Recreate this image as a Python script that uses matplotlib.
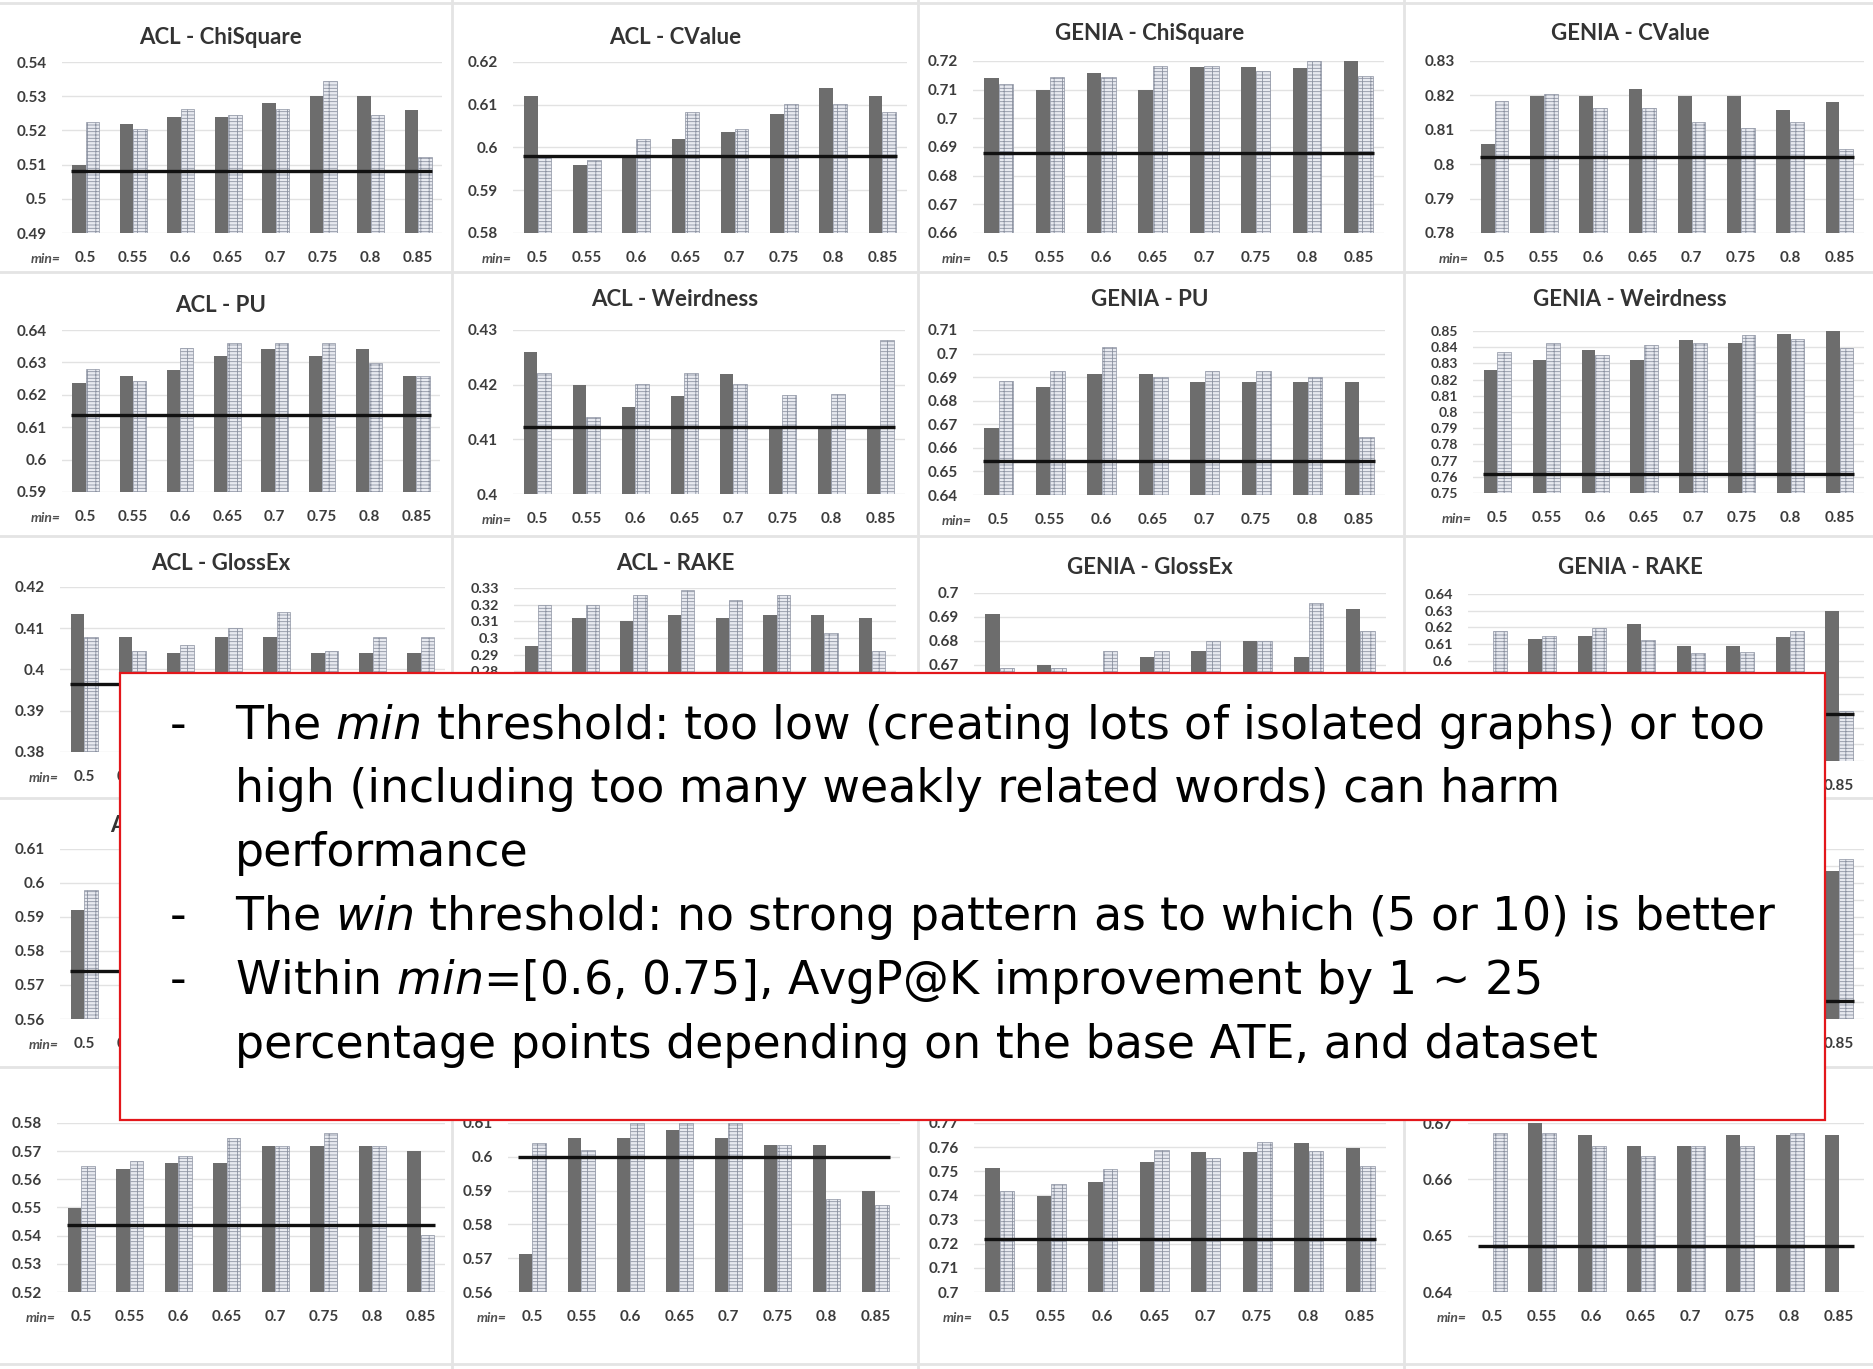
import numpy as np
import matplotlib
matplotlib.use('Agg')
import matplotlib.pyplot as plt
from matplotlib.patches import Rectangle
from matplotlib import transforms

plt.rcParams['font.family'] = ['Lato', 'DejaVu Sans']
plt.rcParams['hatch.linewidth'] = 0.6
plt.rcParams['mathtext.fontset'] = 'dejavusans'

nan = np.nan
mins = ['0.5', '0.55', '0.6', '0.65', '0.7', '0.75', '0.8', '0.85']

# fila 1
acl_chi_dark = [0.510, 0.522, 0.524, 0.524, 0.528, 0.530, 0.530, 0.526]
acl_chi_light = [0.5225, 0.5205, 0.5264, 0.5245, 0.5264, 0.5345, 0.5245, 0.5123]
acl_chi_base = 0.508

acl_cv_dark = [0.612, 0.596, 0.598, 0.602, 0.6037, 0.6078, 0.614, 0.612]
acl_cv_light = [0.598, 0.597, 0.602, 0.6084, 0.6043, 0.6102, 0.6102, 0.6084]
acl_cv_base = 0.598

genia_chi_dark = [0.7139, 0.710, 0.7158, 0.710, 0.7179, 0.7179, 0.7177, 0.720]
genia_chi_light = [0.7121, 0.7144, 0.7144, 0.7181, 0.7181, 0.7165, 0.720, 0.7147]
genia_chi_base = 0.688

genia_cv_dark = [0.8059, 0.8198, 0.8198, 0.822, 0.8198, 0.8198, 0.8159, 0.8181]
genia_cv_light = [0.8183, 0.8203, 0.8162, 0.8162, 0.8123, 0.8104, 0.8123, 0.8043]
genia_cv_base = 0.802

# fila 2
acl_pu_dark = [0.6236, 0.6257, 0.6278, 0.6319, 0.634, 0.6319, 0.634, 0.6257]
acl_pu_light = [0.6281, 0.6242, 0.6343, 0.6361, 0.6361, 0.6361, 0.6298, 0.6257]
acl_pu_base = 0.6139

acl_weird_dark = [0.426, 0.4199, 0.416, 0.4179, 0.422, 0.4122, 0.4122, 0.4122]
acl_weird_light = [0.4221, 0.4141, 0.4202, 0.4222, 0.4202, 0.4181, 0.4183, 0.4282]
acl_weird_base = 0.4122

genia_pu_dark = [0.6683, 0.686, 0.6913, 0.6913, 0.6878, 0.6878, 0.6878, 0.6878]
genia_pu_light = [0.6885, 0.6927, 0.7026, 0.6902, 0.6927, 0.6927, 0.6902, 0.6647]
genia_pu_base = 0.6545

genia_weird_dark = [0.8257, 0.8323, 0.8381, 0.8323, 0.8442, 0.8426, 0.8484, 0.8508]
genia_weird_light = [0.837, 0.8426, 0.835, 0.8412, 0.8426, 0.8473, 0.8453, 0.8397]
genia_weird_base = 0.7615

# fila 3 (parte de abajo tapada por el cuadro)
acl_gloss_dark = [0.4135, 0.408, 0.404, 0.408, 0.408, 0.404, 0.404, 0.404]
acl_gloss_light = [0.408, 0.4045, 0.406, 0.410, 0.414, 0.4045, 0.408, 0.408]
acl_gloss_base = 0.3965

acl_rake_dark = [0.295, 0.312, 0.310, 0.314, 0.312, 0.314, 0.314, 0.312]
acl_rake_light = [0.320, 0.320, 0.326, 0.329, 0.323, 0.326, 0.303, 0.292]
acl_rake_base = nan

genia_gloss_dark = [0.691, 0.670, nan, 0.673, 0.6755, 0.680, 0.673, 0.6935]
genia_gloss_light = [0.6685, 0.6685, 0.6755, 0.6755, 0.680, 0.680, 0.696, 0.684]
genia_gloss_base = nan

genia_rake_dark = [nan, 0.613, 0.615, 0.622, 0.609, 0.609, 0.6145, 0.630]
genia_rake_light = [0.618, 0.615, 0.6196, 0.6124, 0.6045, 0.605, 0.618, 0.570]
genia_rake_base = 0.568

# fila 4 (casi todo tapado)
acl_r4_dark = [0.592, 0.596, nan, nan, nan, nan, nan, nan]
acl_r4_light = [0.598, nan, nan, nan, nan, nan, nan, nan]
acl_r4_base = 0.574

genia_r4_dark = [nan, nan, nan, nan, nan, nan, nan, 0.787]
genia_r4_light = [nan, nan, nan, nan, nan, nan, nan, 0.794]
genia_r4_base = 0.7105

# fila 5
acl_r5a_dark = [0.5498, 0.5638, 0.5658, 0.5658, 0.5718, 0.5718, 0.5718, 0.5702]
acl_r5a_light = [0.5646, 0.5666, 0.5682, 0.5746, 0.5718, 0.5766, 0.5718, 0.5402]
acl_r5a_base = 0.5438

acl_r5b_dark = [0.5712, 0.6055, 0.6055, 0.6078, 0.6055, 0.6035, 0.6035, 0.590]
acl_r5b_light = [0.6042, 0.602, 0.61, 0.61, 0.61, 0.6035, 0.5875, 0.5858]
acl_r5b_base = 0.600

genia_r5a_dark = [0.7515, 0.7399, 0.7457, 0.7537, 0.7579, 0.7579, 0.7618, 0.7597]
genia_r5a_light = [0.7419, 0.7446, 0.7509, 0.7587, 0.7556, 0.762, 0.7584, 0.7521]
genia_r5a_base = 0.722

genia_r5b_dark = [nan, 0.67, 0.6679, 0.666, 0.666, 0.6679, 0.6679, 0.6679]
genia_r5b_light = [0.6683, 0.6683, 0.666, 0.6642, 0.666, 0.666, 0.6682, nan]
genia_r5b_base = 0.6481

W, H = 1874, 1369
fig = plt.figure(figsize=(W / 100, H / 100), dpi=100)

# separadores entre capturas
for xs in [452, 918, 1404]:
    fig.add_artist(plt.Line2D([xs / W, xs / W], [0, 1], color='#e4e4e4', lw=2))
for ys in [3, 272, 536, 798, 1067, 1364]:
    fig.add_artist(plt.Line2D([0, 1], [1 - ys / H, 1 - ys / H], color='#e4e4e4', lw=2))

textos = []


def grafico(pos, ylim, titulo, oscuro, claro, base, tx=None, ty=None, ha='center'):
    l, t, r, b = pos
    hpx = b - t
    ax = fig.add_axes([l / W, 1 - b / H, (r - l) / W, hpx / H])
    x = np.arange(len(mins))
    ax.bar(x - 0.14, oscuro, 0.28, color='#6d6d6d', zorder=2)
    ax.bar(x + 0.14, claro, 0.28, color='#e8eaf0', edgecolor='#8d93a2',
           hatch='-----||', lw=0.5, zorder=2)
    if not np.isnan(base):
        ax.hlines(base, -0.3, 7.3, color='#111111', lw=2.4, zorder=3)
    ticks = np.arange(ylim[0], ylim[1] + 0.005, 0.01)
    ax.set_yticks(ticks)
    ax.set_yticklabels([f'{round(v, 2):g}' for v in ticks])
    ax.set_ylim(ylim)
    ax.set_xticks(x)
    ax.set_xticklabels(mins)
    ax.set_xlim(-0.5, 7.5)
    paso = hpx / (len(ticks) - 1)
    fs = min(11, paso * 0.62)
    ax.tick_params(axis='y', length=0, labelsize=fs, labelcolor='#3c3c3c', pad=11)
    ax.tick_params(axis='x', length=0, labelsize=11, labelcolor='#3c3c3c', pad=13)
    for lab in ax.get_xticklabels() + ax.get_yticklabels():
        lab.set_fontweight('bold')
        textos.append(lab)
    ax.yaxis.grid(True, color='#e2e2e2', lw=1)
    ax.set_axisbelow(True)
    for s in ax.spines.values():
        s.set_visible(False)
    trans = transforms.blended_transform_factory(ax.transData, ax.transAxes)
    textos.append(ax.text(-0.52, -26 / hpx, 'min=', transform=trans, ha='right', va='center',
                          fontsize=10, style='italic', weight='bold', color='#505050'))
    if titulo:
        textos.append(fig.text(tx / W, 1 - ty / H, titulo, ha=ha, va='center',
                               fontsize=16, weight='bold', color='#333333'))
    return ax


cx = [221, 675, 1150, 1630]

grafico((62, 62, 442, 233), (0.49, 0.54), 'ACL - ChiSquare', acl_chi_dark, acl_chi_light, acl_chi_base, cx[0], 38)
grafico((513, 62, 907, 233), (0.58, 0.62), 'ACL - CValue', acl_cv_dark, acl_cv_light, acl_cv_base, cx[1], 38)
grafico((973, 61, 1384, 233), (0.66, 0.72), 'GENIA - ChiSquare', genia_chi_dark, genia_chi_light, genia_chi_base, cx[2], 33)
grafico((1470, 61, 1864, 233), (0.78, 0.83), 'GENIA - CValue', genia_cv_dark, genia_cv_light, genia_cv_base, cx[3], 33)

grafico((62, 330, 440, 492), (0.59, 0.64), 'ACL - PU', acl_pu_dark, acl_pu_light, acl_pu_base, cx[0], 306)
grafico((513, 330, 905, 494), (0.40, 0.43), 'ACL - Weirdness', acl_weird_dark, acl_weird_light, acl_weird_base, cx[1], 300)
grafico((973, 330, 1385, 495), (0.64, 0.71), 'GENIA - PU', genia_pu_dark, genia_pu_light, genia_pu_base, cx[2], 300)
grafico((1473, 331, 1864, 493), (0.75, 0.85), 'GENIA - Weirdness', genia_weird_dark, genia_weird_light, genia_weird_base, cx[3], 300)

grafico((60, 587, 445, 752), (0.38, 0.42), 'ACL - GlossEx', acl_gloss_dark, acl_gloss_light, acl_gloss_base, cx[0], 563)
grafico((514, 588, 896, 755), (0.23, 0.33), 'ACL - RAKE', acl_rake_dark, acl_rake_light, acl_rake_base, cx[1], 563)
grafico((974, 593, 1386, 760), (0.63, 0.70), 'GENIA - GlossEx', genia_gloss_dark, genia_gloss_light, genia_gloss_base, cx[2], 568)
grafico((1468, 594, 1864, 761), (0.54, 0.64), 'GENIA - RAKE', genia_rake_dark, genia_rake_light, genia_rake_base, cx[3], 568)

grafico((60, 849, 445, 1019), (0.56, 0.61), 'ACL - ComboBasic', acl_r4_dark, acl_r4_light, acl_r4_base, 110, 826, 'left')
grafico((1468, 849, 1864, 1019), (0.70, 0.80), None, genia_r4_dark, genia_r4_light, genia_r4_base)

grafico((57, 1123, 445, 1292), (0.52, 0.58), None, acl_r5a_dark, acl_r5a_light, acl_r5a_base)
grafico((508, 1123, 900, 1292), (0.56, 0.61), None, acl_r5b_dark, acl_r5b_light, acl_r5b_base)
grafico((974, 1123, 1386, 1292), (0.70, 0.77), None, genia_r5a_dark, genia_r5a_light, genia_r5a_base)
grafico((1468, 1123, 1864, 1292), (0.64, 0.67), None, genia_r5b_dark, genia_r5b_light, genia_r5b_base)

# cuadro de texto encima
bx0, bx1, by0, by1 = 120, 1825, 673, 1120
fig.add_artist(Rectangle((bx0 / W, 1 - by1 / H), (bx1 - bx0) / W, (by1 - by0) / H,
                         transform=fig.transFigure, facecolor='white',
                         edgecolor='#e3171b', lw=1.6, zorder=10))

# las etiquetas que quedan del todo debajo del cuadro no se ven
fig.canvas.draw()
rend = fig.canvas.get_renderer()
for t in textos:
    bb = t.get_window_extent(rend)
    if bb.x0 >= bx0 and bb.x1 <= bx1 and bb.y0 >= H - by1 and bb.y1 <= H - by0:
        t.set_visible(False)

lineas = [
    (True, r'The $\mathit{min}$ threshold: too low (creating lots of isolated graphs) or too'),
    (False, 'high (including too many weakly related words) can harm'),
    (False, 'performance'),
    (True, r'The $\mathit{win}$ threshold: no strong pattern as to which (5 or 10) is better'),
    (True, r'Within $\mathit{min}$=[0.6, 0.75], AvgP@K improvement by 1 ~ 25'),
    (False, 'percentage points depending on the base ATE, and dataset'),
]
for i, (guion, texto) in enumerate(lineas):
    y = 1 - (726 + i * 63.8) / H
    if guion:
        fig.text(170 / W, y, '-', ha='left', va='center', fontsize=33,
                 family='DejaVu Sans', zorder=11)
    fig.text(235 / W, y, texto, ha='left', va='center', fontsize=33,
             family='DejaVu Sans', zorder=11)

fig.savefig('out.png', dpi=100)
